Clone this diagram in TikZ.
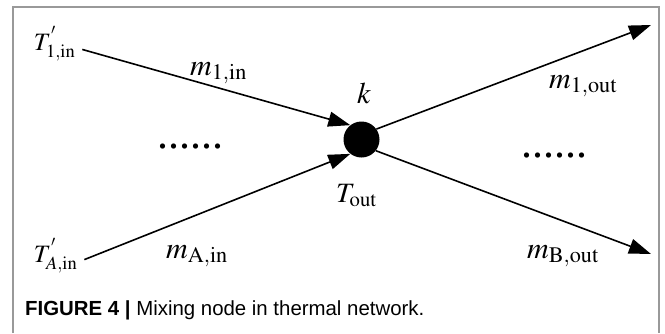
\documentclass[tikz,border=0pt]{standalone}
\usepackage{mathptmx}
\usepackage{fontspec}
\setmainfont{Liberation Serif}
\setsansfont{Liberation Sans}
\usetikzlibrary{arrows.meta}
\tikzset{
  lab/.style={font=\fontsize{30}{34}\selectfont,inner sep=0pt,anchor=base west},
  tlab/.style={font=\fontsize{25}{29}\selectfont,inner sep=1pt,anchor=base west},
  flow/.style={-{Triangle[length=22pt,width=15pt]},line width=1.6pt},
  mixnode/.style={circle,fill=black,minimum size=36pt,inner sep=0pt},
  dots/.style={font=\fontsize{44}{48}\selectfont,inner sep=0pt,anchor=base},
  caption/.style={font=\sffamily\fontsize{20.4}{23}\selectfont,anchor=base west,inner sep=0pt},
  frame/.style={draw=black!40,line width=1.4pt}
}
\begin{document}
\begin{tikzpicture}[x=1pt,y=-1pt]
\path[use as bounding box] (0,0) rectangle (665,333);
\draw[frame] (13,333) |- (659,7) -- (659,333);
% mixing node
\node[mixnode] (mix) at (361.5,139.5) {};
\node[lab,anchor=base] (k) at (364,103) {$k$};
\node[tlab,font=\fontsize{28}{32}\selectfont] (tout) at (335,202) {$T_{\mathrm{out}}$};
% inlets
\node[tlab,outer xsep=6pt] (tin1) at (27,50) {$T^{'}_{1,\mathrm{in}}$};
\node[tlab,outer xsep=6pt] (tinA) at (27,262) {$T^{'}_{A,\mathrm{in}}$};
\node[lab] (m1in) at (190,75) {$m_{1,\mathrm{in}}$};
\node[lab] (mAin) at (166,258) {$m_{\mathrm{A,in}}$};
\node[dots] (dotsin) at (190,148) {......};
% outlets
\coordinate (out1) at (651,25);
\coordinate (outB) at (651,254);
\node[lab] (m1out) at (549,88) {$m_{1,\mathrm{out}}$};
\node[lab] (mBout) at (527,258) {$m_{\mathrm{B,out}}$};
\node[dots] (dotsout) at (554,157) {......};
\draw[flow] (tin1.-12) -- (mix.128);
\draw[flow] (tinA.-8) -- (mix.232);
\draw[flow] (mix.35) -- (out1);
\draw[flow] (mix.-38) -- (outB);
\node[caption] (cap) at (25,315) {\textbf{FIGURE 4 |} Mixing node in thermal network.};
\end{tikzpicture}
\end{document}
